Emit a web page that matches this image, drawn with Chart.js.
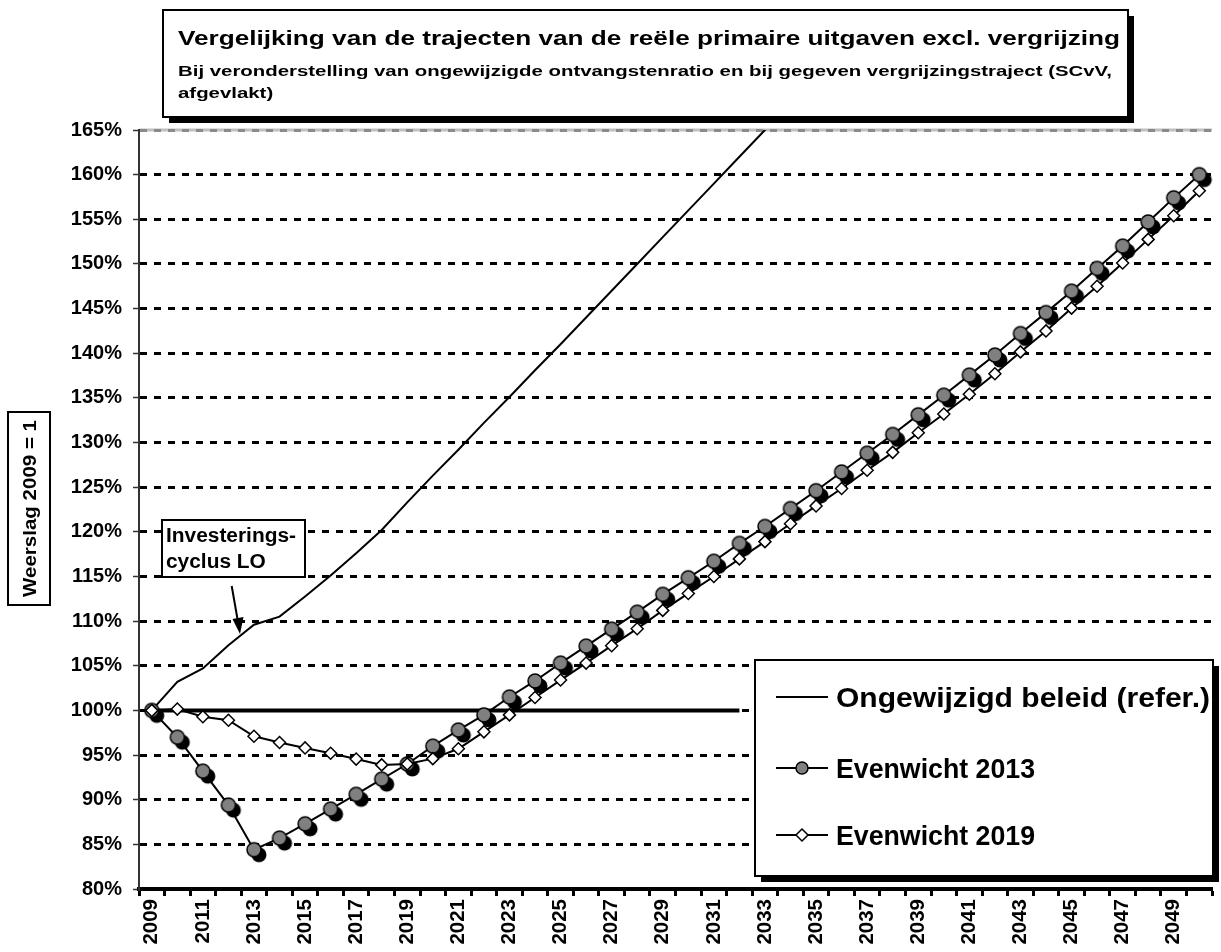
<!DOCTYPE html>
<html>
<head>
<meta charset="utf-8">
<title>Vergelijking van de trajecten</title>
<script src="https://cdn.jsdelivr.net/npm/chart.js@4.4.1/dist/chart.umd.min.js"></script>
<style>
    html, body { margin: 0; padding: 0; background: #fff; overflow: hidden; }
    #wrap { width: 1221px; height: 952px; overflow: hidden; }
    #myChart { display: block; }
</style>
</head>
<body>
<div id="wrap"><canvas id="myChart" width="1227" height="952"></canvas></div>
<script>
'use strict';

//the years on the x axis
let years = ['2009', '2010', '2011', '2012', '2013', '2014', '2015', '2016', '2017', '2018',
    '2019', '2020', '2021', '2022', '2023', '2024', '2025', '2026', '2027', '2028',
    '2029', '2030', '2031', '2032', '2033', '2034', '2035', '2036', '2037', '2038',
    '2039', '2040', '2041', '2042', '2043', '2044', '2045', '2046', '2047', '2048',
    '2049', '2050'];

//ongewijzigd beleid, goes off the top of the chart after 2033
let ongewijzigd = [100, 103.2, 104.7, 107.3, 109.6, 110.5, 112.75, 115.1, 117.6, 120.2,
    123.3, 126.3, 129.2, 132.2, 135.1, 138.1, 141.0, 144.0, 147.0, 150.0,
    153.0, 156.0, 159.0, 162.0, 165.0, 168.0];

//evenwicht 2013 (grey balls)
let evenwicht2013 = [100, 97.0, 93.2, 89.4, 84.4, 85.7, 87.3, 88.95, 90.6, 92.3,
    94.0, 96.0, 97.8, 99.5, 101.5, 103.3, 105.3, 107.2, 109.1, 111.0,
    113.0, 114.85, 116.7, 118.7, 120.6, 122.6, 124.6, 126.7, 128.8, 130.9,
    133.1, 135.3, 137.55, 139.8, 142.2, 144.55, 146.95, 149.5, 152.0, 154.7,
    157.4, 160.0];

//evenwicht 2019 (white diamonds)
let evenwicht2019 = [100, 100.15, 99.3, 98.9, 97.1, 96.4, 95.8, 95.2, 94.55, 93.9,
    94.0, 94.6, 95.7, 97.6, 99.5, 101.45, 103.4, 105.3, 107.25, 109.15,
    111.2, 113.1, 115.0, 116.97, 118.9, 120.9, 122.9, 124.85, 126.9, 128.9,
    131.1, 133.2, 135.4, 137.7, 140.15, 142.5, 145.05, 147.5, 150.1, 152.75,
    155.4, 158.2];

//the thick 100% line, drawn up to 2032
let basisLijn = [100, 100, 100, 100, 100, 100, 100, 100, 100, 100,
    100, 100, 100, 100, 100, 100, 100, 100, 100, 100,
    100, 100, 100, 100];

//y axis
let yMin = 80;
let yMax = 165;
let yStep = 5;

let seriesNames = ['Ongewijzigd beleid (refer.)', 'Evenwicht 2013', 'Evenwicht 2019'];
let titleLines = ['Vergelijking van de trajecten van de reële primaire uitgaven excl. vergrijzing',
    'Bij veronderstelling van ongewijzigde ontvangstenratio en bij gegeven vergrijzingstraject (SCvV,',
    'afgevlakt)'];
let yTitle = 'Weerslag 2009 = 1';
let noteLines = ['Investerings-', 'cyclus LO'];

let fontName = '"Liberation Sans", Arial, sans-serif';

//grey ball with a black shadow, used as point style
function makeBall() {
    let c = document.createElement('canvas');
    c.width = 36;
    c.height = 36;
    let g = c.getContext('2d');
    g.fillStyle = '#000';
    g.beginPath();
    g.arc(23, 23, 7.5, 0, Math.PI * 2);
    g.fill();
    g.fillStyle = '#808080';
    g.strokeStyle = '#000';
    g.lineWidth = 1.5;
    g.beginPath();
    g.arc(18, 18, 7, 0, Math.PI * 2);
    g.fill();
    g.stroke();
    return c;
}
let ball = makeBall();

//draw bold text stretched a bit wider like the excel font
function wideText(ctx, text, x, y, size, sx, rotate) {
    ctx.save();
    ctx.font = 'bold ' + size + 'px ' + fontName;
    ctx.translate(x, y);
    if (rotate) {
        ctx.rotate(-Math.PI / 2);
    }
    ctx.scale(sx, 1);
    ctx.fillStyle = '#000';
    ctx.textBaseline = 'alphabetic';
    ctx.textAlign = 'left';
    ctx.fillText(text, 0, 0);
    ctx.restore();
}
//scale needed to make a text a given width
function stretchFor(ctx, text, size, width) {
    ctx.save();
    ctx.font = 'bold ' + size + 'px ' + fontName;
    let w = ctx.measureText(text).width;
    ctx.restore();
    return width / w;
}

function boxWithShadow(ctx, x, y, w, h, shadow) {
    ctx.save();
    if (shadow) {
        ctx.fillStyle = '#000';
        ctx.fillRect(x + shadow, y + shadow, w, h);
    }
    ctx.fillStyle = '#fff';
    ctx.fillRect(x, y, w, h);
    ctx.strokeStyle = '#000';
    ctx.lineWidth = 2;
    ctx.strokeRect(x, y, w, h);
    ctx.restore();
}

let extras = {
    id: 'extras',
    beforeDraw(chart) {
        let ctx = chart.ctx;
        let area = chart.chartArea;
        ctx.save();
        ctx.fillStyle = '#fff';
        ctx.fillRect(0, 0, chart.width, chart.height);
        //light grey line on the top of the plot
        ctx.strokeStyle = '#c0c0c0';
        ctx.lineWidth = 3;
        ctx.beginPath();
        ctx.moveTo(area.left, area.top);
        ctx.lineTo(area.right, area.top);
        ctx.stroke();
        ctx.restore();
    },
    afterDraw(chart) {
        let ctx = chart.ctx;

        //title box
        boxWithShadow(ctx, 163, 10, 965, 107, 6);
        let s1 = stretchFor(ctx, titleLines[0], 20.5, 942);
        wideText(ctx, titleLines[0], 178, 45, 20.5, s1);
        let s2 = stretchFor(ctx, titleLines[1], 15.5, 934);
        wideText(ctx, titleLines[1], 178, 76, 15.5, s2);
        wideText(ctx, titleLines[2], 178, 98, 15.5, s2);

        //y axis title in a box
        boxWithShadow(ctx, 8, 412, 42, 193, 0);
        let s3 = stretchFor(ctx, yTitle, 18.5, 177);
        wideText(ctx, yTitle, 36, 597, 18.5, s3, true);

        //note with the arrow
        boxWithShadow(ctx, 162, 520, 143, 57, 0);
        let s4 = stretchFor(ctx, noteLines[0], 19.5, 130);
        wideText(ctx, noteLines[0], 166, 542, 19.5, s4);
        wideText(ctx, noteLines[1], 166, 568, 19.5, s4);
        ctx.save();
        ctx.strokeStyle = '#000';
        ctx.fillStyle = '#000';
        ctx.lineWidth = 2;
        ctx.beginPath();
        ctx.moveTo(231.7, 586);
        ctx.lineTo(238, 622);
        ctx.stroke();
        ctx.beginPath();
        ctx.moveTo(240, 634);
        ctx.lineTo(232.5, 619);
        ctx.lineTo(243.5, 617);
        ctx.closePath();
        ctx.fill();
        ctx.restore();

        //legend
        boxWithShadow(ctx, 755, 660, 458, 216, 6);
        let rows = [697, 768, 835];
        let widths = [374, 199, 199];
        for (let i = 0; i < seriesNames.length; i++) {
            let y = rows[i];
            ctx.save();
            ctx.strokeStyle = '#000';
            ctx.lineWidth = 2;
            ctx.beginPath();
            ctx.moveTo(776, y);
            ctx.lineTo(828, y);
            ctx.stroke();
            ctx.lineWidth = 1.5;
            if (i === 1) {
                ctx.fillStyle = '#808080';
                ctx.beginPath();
                ctx.arc(802, y, 6, 0, Math.PI * 2);
                ctx.fill();
                ctx.stroke();
            } else if (i === 2) {
                ctx.fillStyle = '#fff';
                ctx.beginPath();
                ctx.moveTo(802, y - 6);
                ctx.lineTo(808, y);
                ctx.lineTo(802, y + 6);
                ctx.lineTo(796, y);
                ctx.closePath();
                ctx.fill();
                ctx.stroke();
            }
            ctx.restore();
            let sx = stretchFor(ctx, seriesNames[i], 28.5, widths[i]);
            wideText(ctx, seriesNames[i], 836, y + 10, 28.5, sx);
        }
    }
};

let ctx = document.getElementById('myChart').getContext('2d');
let chart = new Chart(ctx, {
    type: 'line',
    data: {
        labels: years,
        datasets: [{
            label: seriesNames[2],
            data: evenwicht2019,
            borderColor: '#000',
            borderWidth: 2,
            pointStyle: 'rectRot',
            pointRadius: 6,
            pointBorderWidth: 1.5,
            pointBackgroundColor: '#fff',
            pointBorderColor: '#000',
            order: 0
        }, {
            label: seriesNames[1],
            data: evenwicht2013,
            borderColor: '#000',
            borderWidth: 2,
            pointStyle: ball,
            pointRadius: 8,
            order: 1
        }, {
            label: seriesNames[0],
            data: ongewijzigd,
            borderColor: '#000',
            borderWidth: 2,
            pointRadius: 0,
            order: 2
        }, {
            label: '100%',
            data: basisLijn,
            borderColor: '#000',
            borderWidth: 4,
            pointRadius: 0,
            borderCapStyle: 'butt',
            order: 3
        }]
    },
    options: {
        responsive: false,
        animation: false,
        layout: { padding: { top: 130, left: 0, right: 0, bottom: 0 } },
        plugins: {
            legend: { display: false },
            title: { display: false },
            tooltip: { enabled: false }
        },
        scales: {
            x: {
                type: 'category',
                offset: true,
                afterFit(scale) { scale.height = 63; },
                grid: {
                    offset: true,
                    drawOnChartArea: false,
                    drawTicks: true,
                    tickLength: 7,
                    tickWidth: 3,
                    tickColor: '#000'
                },
                border: { display: true, color: '#000', width: 4 },
                ticks: {
                    autoSkip: false,
                    maxRotation: 90,
                    minRotation: 90,
                    padding: 3,
                    color: '#000',
                    font: { family: fontName, weight: 'bold', size: 20.5 },
                    callback: function (value, index) {
                        return index % 2 === 0 ? years[index] : '';
                    }
                }
            },
            y: {
                min: yMin,
                max: yMax,
                afterFit(scale) { scale.width = 139; },
                grid: {
                    color: function (c) {
                        return c.tick && c.tick.value === yMax ? '#8a8a8a' : '#000';
                    },
                    lineWidth: 3,
                    drawTicks: true,
                    tickLength: 6,
                    tickWidth: 1.5,
                    tickColor: '#333'
                },
                border: { display: true, color: '#333', width: 2, dash: [7, 7], dashOffset: 0 },
                ticks: {
                    stepSize: yStep,
                    padding: 11,
                    color: '#000',
                    font: { family: fontName, weight: 'bold', size: 20 },
                    callback: function (value) {
                        return value + '%';
                    }
                }
            }
        }
    },
    plugins: [extras]
});
</script>
</body>
</html>
